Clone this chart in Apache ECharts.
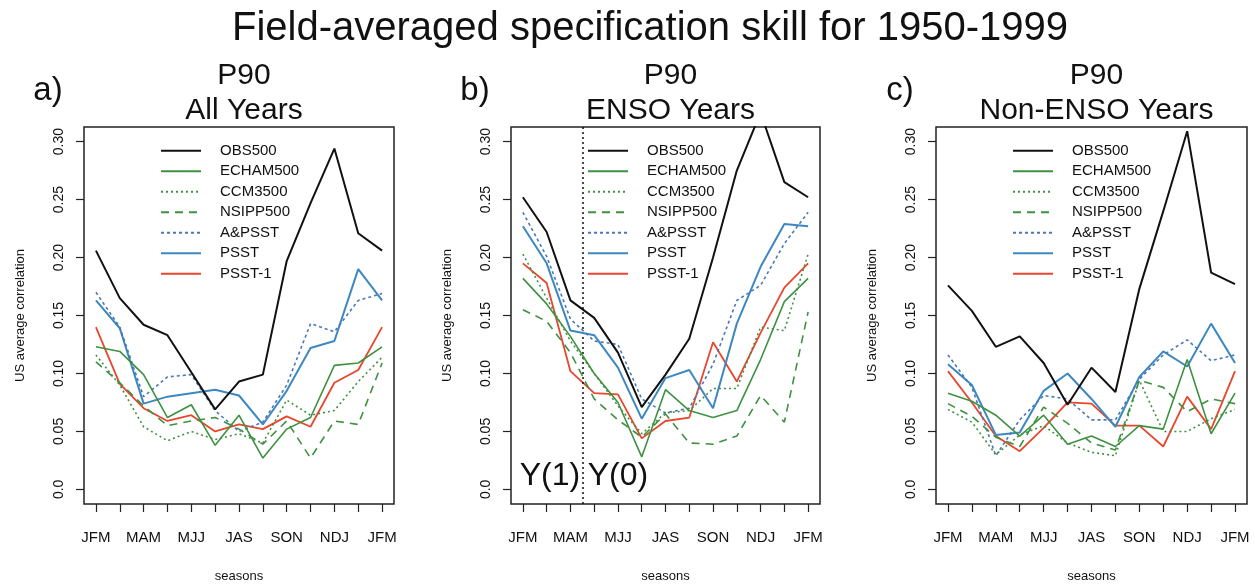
<!DOCTYPE html>
<html>
<head>
<meta charset="utf-8">
<script src="https://cdn.jsdelivr.net/npm/echarts@6/dist/echarts.min.js"></script>
<style>
  html, body { margin: 0; padding: 0; background: #fff; }
  #chart { width: 1255px; height: 588px; }
</style>
</head>
<body>
<div id="chart"></div>
<script>
// seasons (13 running 3-month seasons, JFM .. JFM)
var seasons = ['JFM', 'FMA', 'MAM', 'AMJ', 'MJJ', 'JJA', 'JAS', 'ASO', 'SON', 'OND', 'NDJ', 'DJF', 'JFM'];
var seasonTicks = [1, 2, 3, 4, 5, 6, 7, 8, 9, 10, 11, 12, 13];
var seasonLabels = [1, 3, 5, 7, 9, 11, 13];
var yTicks = [0, 0.05, 0.1, 0.15, 0.2, 0.25, 0.3];
var seriesNames = ['OBS500', 'ECHAM500', 'CCM3500', 'NSIPP500', 'A&PSST', 'PSST', 'PSST-1'];

// a) All Years
var allObs    = [0.206, 0.165, 0.142, 0.133, 0.101, 0.069, 0.093, 0.099, 0.197, 0.247, 0.294, 0.221, 0.206];
var allEcham  = [0.123, 0.119, 0.099, 0.062, 0.073, 0.038, 0.064, 0.027, 0.052, 0.062, 0.107, 0.109, 0.123];
var allCcm    = [0.116, 0.090, 0.054, 0.042, 0.050, 0.043, 0.048, 0.040, 0.077, 0.064, 0.068, 0.093, 0.114];
var allNsipp  = [0.110, 0.092, 0.072, 0.055, 0.059, 0.062, 0.052, 0.039, 0.059, 0.027, 0.059, 0.056, 0.109];
var allApsst  = [0.170, 0.140, 0.080, 0.097, 0.099, 0.068, 0.050, 0.058, 0.090, 0.143, 0.136, 0.163, 0.169];
var allPsst   = [0.163, 0.139, 0.074, 0.080, 0.083, 0.086, 0.081, 0.056, 0.085, 0.122, 0.128, 0.190, 0.163];
var allPsst1  = [0.140, 0.091, 0.070, 0.059, 0.064, 0.050, 0.056, 0.052, 0.063, 0.054, 0.092, 0.103, 0.140];

// b) ENSO Years
var ensoObs   = [0.252, 0.222, 0.163, 0.148, 0.118, 0.071, 0.099, 0.130, 0.200, 0.275, 0.325, 0.265, 0.252];
var ensoEcham = [0.182, 0.160, 0.132, 0.100, 0.075, 0.028, 0.086, 0.068, 0.062, 0.068, 0.112, 0.162, 0.182];
var ensoCcm   = [0.203, 0.165, 0.128, 0.100, 0.072, 0.048, 0.066, 0.068, 0.087, 0.087, 0.140, 0.137, 0.203];
var ensoNsipp = [0.155, 0.145, 0.118, 0.078, 0.060, 0.045, 0.065, 0.040, 0.039, 0.046, 0.081, 0.058, 0.153];
var ensoApsst = [0.239, 0.201, 0.147, 0.128, 0.125, 0.078, 0.066, 0.070, 0.108, 0.163, 0.176, 0.212, 0.239];
var ensoPsst  = [0.227, 0.195, 0.137, 0.133, 0.105, 0.061, 0.096, 0.103, 0.070, 0.143, 0.192, 0.229, 0.227];
var ensoPsst1 = [0.195, 0.178, 0.102, 0.083, 0.082, 0.044, 0.059, 0.062, 0.127, 0.093, 0.135, 0.174, 0.195];
var ensoSplit = 3.5; // Y(1) | Y(0) boundary

// c) Non-ENSO Years
var nonObs    = [0.176, 0.154, 0.123, 0.132, 0.109, 0.073, 0.105, 0.084, 0.173, 0.240, 0.309, 0.187, 0.177];
var nonEcham  = [0.083, 0.076, 0.064, 0.046, 0.064, 0.039, 0.046, 0.037, 0.055, 0.052, 0.112, 0.048, 0.083];
var nonCcm    = [0.069, 0.058, 0.030, 0.047, 0.055, 0.040, 0.032, 0.029, 0.094, 0.050, 0.050, 0.061, 0.069];
var nonNsipp  = [0.074, 0.063, 0.045, 0.037, 0.071, 0.057, 0.040, 0.034, 0.094, 0.088, 0.067, 0.078, 0.074];
var nonApsst  = [0.116, 0.088, 0.029, 0.060, 0.081, 0.078, 0.060, 0.060, 0.095, 0.116, 0.129, 0.111, 0.116];
var nonPsst   = [0.108, 0.090, 0.047, 0.049, 0.085, 0.100, 0.078, 0.054, 0.097, 0.119, 0.106, 0.143, 0.109];
var nonPsst1  = [0.102, 0.075, 0.046, 0.033, 0.053, 0.075, 0.074, 0.055, 0.055, 0.037, 0.080, 0.052, 0.102];

var panels = [
  { tag: 'a)', title: 'All Years', left: 84, width: 310,
    values: [allObs, allEcham, allCcm, allNsipp, allApsst, allPsst, allPsst1] },
  { tag: 'b)', title: 'ENSO Years', left: 511, width: 309,
    values: [ensoObs, ensoEcham, ensoCcm, ensoNsipp, ensoApsst, ensoPsst, ensoPsst1] },
  { tag: 'c)', title: 'Non-ENSO Years', left: 936, width: 311,
    values: [nonObs, nonEcham, nonCcm, nonNsipp, nonApsst, nonPsst, nonPsst1] }
];

var green = '#3f9142';
var lineStyles = [
  { color: '#111111', width: 2, type: 'solid' },
  { color: green, width: 1.6, type: 'solid' },
  { color: green, width: 1.6, type: [2, 3] },
  { color: green, width: 1.6, type: [8, 6] },
  { color: '#4a78b5', width: 1.6, type: [3, 3] },
  { color: '#3d88c0', width: 2, type: 'solid' },
  { color: '#e8462e', width: 1.8, type: 'solid' }
];

var font = 'Liberation Sans, Arial, Helvetica, sans-serif';
var gridTop = 127, gridHeight = 386;

var grids = [], xAxes = [], yAxes = [], series = [], legends = [];
var titles = [{
  text: 'Field-averaged specification skill for 1950-1999',
  left: 645, top: 4, textAlign: 'center',
  textStyle: { fontFamily: font, fontSize: 40, fontWeight: 'normal', color: '#111' }
}];

panels.forEach(function(p, pi) {
  var center = p.left + p.width / 2;
  grids.push({
    left: p.left, top: gridTop, width: p.width, height: gridHeight,
    show: true, borderColor: '#222', borderWidth: 1.5, backgroundColor: 'transparent'
  });
  xAxes.push({
    gridIndex: pi, type: 'value', min: 0.5, max: 13.5,
    name: 'seasons', nameLocation: 'middle', nameGap: 66,
    nameTextStyle: { fontFamily: font, fontSize: 13, color: '#111' },
    axisLine: { show: false, onZero: false },
    axisTick: { show: true, customValues: seasonTicks, length: 8, lineStyle: { color: '#222', width: 1.2 } },
    axisLabel: {
      customValues: seasonLabels, margin: 26, fontFamily: font, fontSize: 15, color: '#111',
      formatter: function(v) { return seasons[Math.round(v) - 1]; }
    },
    splitLine: { show: false }
  });
  yAxes.push({
    gridIndex: pi, type: 'value', min: -0.0126, max: 0.3126,
    name: 'US average correlation', nameLocation: 'middle', nameGap: 57, nameRotate: 90,
    nameTextStyle: { fontFamily: font, fontSize: 13, color: '#111' },
    axisLine: { show: false, onZero: false },
    axisTick: { show: true, customValues: yTicks, length: 8, lineStyle: { color: '#222', width: 1.2 } },
    axisLabel: {
      customValues: yTicks, rotate: 90, margin: 18, fontFamily: font, fontSize: 14, color: '#111',
      formatter: function(v) { return v === 0 ? '0.0' : v.toFixed(2); }
    },
    splitLine: { show: false }
  });
  seriesNames.forEach(function(name, si) {
    var s = {
      name: name, type: 'line', xAxisIndex: pi, yAxisIndex: pi,
      symbol: 'none', clip: true,
      lineStyle: lineStyles[si],
      itemStyle: { color: lineStyles[si].color },
      data: p.values[si].map(function(v, i) { return [seasonTicks[i], v]; }),
      z: 10 - si
    };
    if (pi === 1 && si === 0) {
      s.markLine = {
        silent: true, symbol: ['none', 'none'], label: { show: false },
        lineStyle: { color: '#111', type: [2, 3], width: 1.5 },
        data: [{ xAxis: ensoSplit }]
      };
    }
    series.push(s);
  });
  legends.push({
    data: seriesNames, orient: 'vertical', left: p.left + 71, top: 137,
    itemWidth: 40, itemHeight: 12, itemGap: 3,
    itemStyle: { opacity: 0 },
    textStyle: { fontFamily: font, fontSize: 15, lineHeight: 17.5, color: '#111', padding: [0, 0, 0, 14] },
    selectedMode: false
  });
  titles.push({
    text: 'P90\n' + p.title, left: center, top: 53, textAlign: 'center',
    textStyle: { fontFamily: font, fontSize: 30, fontWeight: 'normal', color: '#111', lineHeight: 35 }
  });
  titles.push({
    text: p.tag, left: p.left - 41, top: 69, textAlign: 'center',
    textStyle: { fontFamily: font, fontSize: 33, fontWeight: 'normal', color: '#111' }
  });
});

titles.push({
  text: 'Y(1)', left: 545, top: 455, textAlign: 'center',
  textStyle: { fontFamily: font, fontSize: 32, fontWeight: 'normal', color: '#111' }
});
titles.push({
  text: 'Y(0)', left: 613, top: 455, textAlign: 'center',
  textStyle: { fontFamily: font, fontSize: 32, fontWeight: 'normal', color: '#111' }
});

var chart = echarts.init(document.getElementById('chart'), null, { renderer: 'canvas' });
chart.setOption({
  animation: false,
  backgroundColor: '#fff',
  title: titles,
  legend: legends,
  grid: grids,
  xAxis: xAxes,
  yAxis: yAxes,
  series: series
});
</script>
</body>
</html>
